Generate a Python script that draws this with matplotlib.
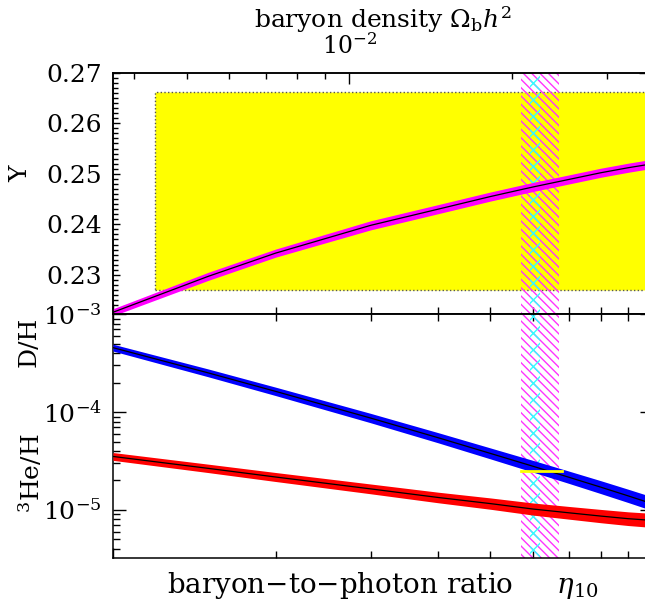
import numpy as np
import matplotlib
matplotlib.use("Agg")
import matplotlib.pyplot as plt
from matplotlib.ticker import FixedLocator, FixedFormatter, NullFormatter, LogLocator, MultipleLocator, FormatStrFormatter
from matplotlib.patches import Rectangle

plt.rcParams['font.family'] = ['DejaVu Serif']
plt.rcParams['mathtext.fontset'] = 'dejavuserif'
plt.rcParams['hatch.linewidth'] = 1.0

# ---------------- data ----------------
eta = [1.0, 1.5, 2.0, 3.0, 4.0, 5.0, 6.0, 7.0, 8.0, 9.0, 10.0]
# helium-4 mass fraction and its band half width
Yp = [0.2226, 0.2297, 0.2343, 0.2398, 0.2430, 0.2455, 0.2474, 0.2489, 0.2502, 0.2512, 0.2520]
Yp_err = [0.0007, 0.0008, 0.0008, 0.0009, 0.0009, 0.0009, 0.0009, 0.0009, 0.0009, 0.0009, 0.0009]
# D/H and its band half width (dex)
DH = [4.56e-4, 2.52e-4, 1.63e-4, 8.69e-5, 5.47e-5, 3.78e-5, 2.79e-5, 2.15e-5, 1.71e-5, 1.39e-5, 1.15e-5]
DH_err = [0.035, 0.040, 0.043, 0.048, 0.052, 0.056, 0.060, 0.063, 0.066, 0.068, 0.070]
# 3He/H and its band half width (dex)
He3 = [3.52e-5, 2.66e-5, 2.17e-5, 1.64e-5, 1.34e-5, 1.16e-5, 1.02e-5, 9.33e-6, 8.65e-6, 8.13e-6, 7.80e-6]
He3_err = [0.040, 0.043, 0.046, 0.050, 0.054, 0.058, 0.062, 0.065, 0.068, 0.070, 0.072]

# observational boxes
Y_obs = [0.2271, 0.2661]
Y_obs_eta = [1.196, 12.0]
DH_obs = 2.52e-5
DH_obs_eta = [5.69, 6.78]
# CMB bands in eta
band_wide = [5.69, 6.70]
band_narrow = [5.91, 6.18]

eta_per_omega = 273.9
eta_lim = [1.0, 10.0]
Y_lim = [0.2222, 0.27]
XH_lim = [3.2e-6, 1e-3]

eta = np.array(eta)
Yp = np.array(Yp)
Yp_err = np.array(Yp_err)
DH = np.array(DH)
DH_err = np.array(DH_err)
He3 = np.array(He3)
He3_err = np.array(He3_err)

fig = plt.figure(figsize=(6.45, 6.01), dpi=100)
ax1 = fig.add_axes([0.17519, 0.47704, 0.83721, 0.40200])
ax2 = fig.add_axes([0.17519, 0.07105, 0.83721, 0.40599], sharex=ax1)

##################### top panel : Y #####################
ax1.set_xscale('log')
ax1.set_xlim(eta_lim)
ax1.set_ylim(Y_lim)

ax1.add_patch(Rectangle((Y_obs_eta[0], Y_obs[0]), Y_obs_eta[1] - Y_obs_eta[0], Y_obs[1] - Y_obs[0],
                        facecolor='#ffff00', edgecolor='#555555', linestyle=':', linewidth=1.0, zorder=1))
for ax in (ax1, ax2):
    ax.axvspan(band_wide[0], band_wide[1], facecolor='none', edgecolor='#ff33ff',
               hatch='\\\\\\\\', linewidth=0, zorder=2)
    ax.axvspan(band_narrow[0], band_narrow[1], facecolor='none', edgecolor='#33ffff',
               hatch='xx', linewidth=0, zorder=2.5)

ax1.fill_between(eta, Yp - Yp_err, Yp + Yp_err, color='#ff00ff', linewidth=0, zorder=3)
ax1.plot(eta, Yp, color='black', lw=0.9, zorder=4)

ax1.yaxis.set_major_locator(MultipleLocator(0.01))
ax1.yaxis.set_minor_locator(MultipleLocator(0.001))
ax1.yaxis.set_major_formatter(FormatStrFormatter('%.2f'))
ax1.tick_params(axis='y', which='both', direction='in', left=True, right=False, labelsize=18, pad=8)
ax1.tick_params(axis='y', which='major', length=5, width=1)
ax1.tick_params(axis='y', which='minor', length=3.5, width=1)
ax1.tick_params(axis='x', which='both', direction='in', top=False, bottom=True, labelbottom=False)
ax1.tick_params(axis='x', which='major', length=7, width=1)
ax1.tick_params(axis='x', which='minor', length=5, width=1)
ax1.set_ylabel('Y', fontsize=18)
ax1.yaxis.set_label_coords(-0.150, 0.58)

# right-hand ticks of the Y panel are longer
ax1r = ax1.secondary_yaxis('right')
ax1r.yaxis.set_major_locator(MultipleLocator(0.01))
ax1r.yaxis.set_minor_locator(MultipleLocator(0.001))
ax1r.yaxis.set_major_formatter(NullFormatter())
ax1r.tick_params(axis='y', which='both', direction='in')
ax1r.tick_params(axis='y', which='major', length=10, width=1)
ax1r.tick_params(axis='y', which='minor', length=3.5, width=1)

# top axis in Omega_b h^2
ax3 = ax1.twiny()
ax3.set_xscale('log')
ax3.set_xlim(eta_lim[0] / eta_per_omega, eta_lim[1] / eta_per_omega)
ax3.xaxis.set_major_locator(FixedLocator([1e-2]))
ax3.xaxis.set_major_formatter(FixedFormatter([r'$10^{-2}$']))
ax3.xaxis.set_minor_locator(LogLocator(base=10, subs=np.arange(2, 10)))
ax3.xaxis.set_minor_formatter(NullFormatter())
ax3.tick_params(axis='x', which='both', direction='in', labelsize=17, pad=10)
ax3.tick_params(axis='x', which='major', length=8, width=1)
ax3.tick_params(axis='x', which='minor', length=4, width=1)
ax3.set_xlabel(r'baryon density $\Omega_{\rm b}h^2$', fontsize=18, labelpad=3.5)

##################### bottom panel : D/H, 3He/H #####################
ax2.set_yscale('log')
ax2.set_ylim(XH_lim)

ax2.fill_between(eta, DH * 10 ** (-DH_err), DH * 10 ** DH_err, color='#0000ff', linewidth=0, zorder=3)
ax2.plot(eta, DH, color='black', lw=0.9, zorder=4)
ax2.fill_between(eta, He3 * 10 ** (-He3_err), He3 * 10 ** He3_err, color='#ff0000', linewidth=0, zorder=3)
ax2.plot(eta, He3, color='black', lw=0.9, zorder=4)
ax2.plot(DH_obs_eta, [DH_obs, DH_obs], color='#ffff00', lw=2, zorder=5)

ax2.yaxis.set_major_locator(LogLocator(base=10))
ax2.yaxis.set_minor_locator(LogLocator(base=10, subs=np.arange(2, 10)))
ax2.yaxis.set_minor_formatter(NullFormatter())
ax2.tick_params(axis='y', which='both', direction='in', left=True, right=True, labelsize=18, pad=8)
ax2.tick_params(axis='y', which='major', length=9.5, width=1)
ax2.tick_params(axis='y', which='minor', length=5, width=1)
ax2.xaxis.set_major_locator(LogLocator(base=10))
ax2.xaxis.set_minor_locator(LogLocator(base=10, subs=np.arange(2, 10)))
ax2.xaxis.set_major_formatter(NullFormatter())
ax2.xaxis.set_minor_formatter(NullFormatter())
ax2.tick_params(axis='x', which='both', direction='in', top=True, bottom=True)
ax2.tick_params(axis='x', which='major', length=7, width=1)
ax2.tick_params(axis='x', which='minor', length=5, width=1)
ax2.set_xlabel(r'baryon$-$to$-$photon ratio     $\eta_{10}$', fontsize=20, labelpad=5)

ax2.set_ylabel('D/H', fontsize=18)
ax2.yaxis.set_label_coords(-0.135, 0.889)
fig.text(31 / 645, 0.07105 + 0.348 * 0.40599, r'$^3$He/H', fontsize=18,
         rotation=90, ha='center', va='center')

for ax in (ax1, ax2, ax3):
    for s in ax.spines.values():
        s.set_linewidth(1.1)

fig.savefig('out.png', dpi=100)
